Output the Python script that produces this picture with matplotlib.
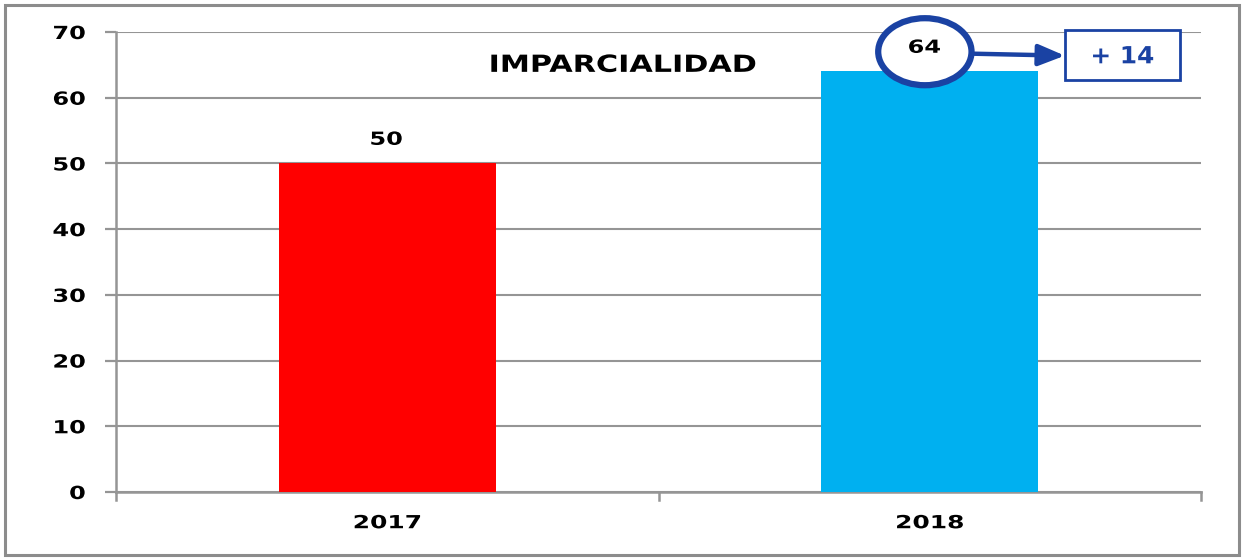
import matplotlib
matplotlib.use("Agg")
import matplotlib.pyplot as plt
from matplotlib.patches import Ellipse, Rectangle, FancyArrowPatch
from matplotlib.patheffects import AbstractPathEffect
from matplotlib.transforms import Affine2D

years = ["2017", "2018"]
values = [50, 64]
bar_colors = ["#FF0000", "#00B0F0"]
title = "IMPARCIALIDAD"
change_label = "+ 14"
y_ticks = [0, 10, 20, 30, 40, 50, 60, 70]

grid_color = "#959595"
accent = "#1A42A3"


class Stretch(AbstractPathEffect):
    """Widen glyph outlines horizontally about a chosen anchor of the ink."""

    def __init__(self, sx, anchor="center"):
        super().__init__()
        self.sx = sx
        self.anchor = anchor

    def draw_path(self, renderer, gc, tpath, affine, rgbFace=None):
        ext = tpath.get_extents()
        if self.anchor == "right":
            cx = ext.x1
        elif self.anchor == "left":
            cx = ext.x0
        else:
            cx = 0.5 * (ext.x0 + ext.x1)
        t = Affine2D().translate(-cx, 0).scale(self.sx, 1).translate(cx, 0) + affine
        renderer.draw_path(gc, tpath, t, rgbFace)


fig = plt.figure(figsize=(12.43, 5.59), dpi=100)
fig.patch.set_facecolor("white")

# outer chart frame
fig.patches.append(Rectangle((0.004, 0.008), 0.993, 0.983, transform=fig.transFigure,
                             fill=False, edgecolor="#8C8C8C", linewidth=2.2))

ax = fig.add_axes([116 / 1243, 1 - 492 / 559, (1201 - 116) / 1243, (492 - 32) / 559])
x = list(range(len(years)))
ax.bar(x, values, width=0.4, color=bar_colors, zorder=3)
ax.set_xlim(-0.5, len(years) - 0.5)
ax.set_ylim(0, 70)
ax.set_yticks(y_ticks)
ax.set_yticklabels([str(v) for v in y_ticks], fontsize=13, fontweight="bold")
ax.set_xticks(x)
ax.set_xticklabels(years, fontsize=13, fontweight="bold")
ax.tick_params(axis="x", length=0, pad=16)
ax.tick_params(axis="y", length=8, width=1.6, color=grid_color, pad=14)
for lab in ax.get_yticklabels():
    lab.set_path_effects([Stretch(1.33, "right")])
for lab in ax.get_xticklabels():
    lab.set_path_effects([Stretch(1.38, "center")])

# category boundary ticks
for b in [-0.5, 0.5, 1.5]:
    ax.plot([b, b], [0, -1.2], color=grid_color, lw=1.8, clip_on=False, zorder=4)

ax.yaxis.grid(True, color=grid_color, linewidth=1.5, zorder=0)
for s in ["top", "right"]:
    ax.spines[s].set_visible(False)
for s in ["left", "bottom"]:
    ax.spines[s].set_color(grid_color)
    ax.spines[s].set_linewidth(1.8)

ax.text(0.434, 65.0, title, ha="center", va="center", fontsize=17, fontweight="bold",
        path_effects=[Stretch(1.28)])

# value labels
ax.text(x[0] - 0.002, values[0] + 3.6, str(values[0]), ha="center", va="center",
        fontsize=13, fontweight="bold", path_effects=[Stretch(1.33)])
ax.text(x[1] - 0.01, values[1] + 3.6, str(values[1]), ha="center", va="center",
        fontsize=13, fontweight="bold", zorder=6, path_effects=[Stretch(1.33)])

# highlight around the 2018 value
ell_cx, ell_cy = x[1] - 0.009, values[1] + 3.0
ax.add_patch(Ellipse((ell_cx, ell_cy), width=0.172, height=10.2, fill=True,
                     facecolor="white", edgecolor=accent, linewidth=4.5, zorder=5,
                     clip_on=False))
ax.add_patch(FancyArrowPatch((ell_cx + 0.088, ell_cy - 0.3), (1.249, ell_cy - 0.6),
                             arrowstyle="-|>,head_length=16,head_width=6.5",
                             mutation_scale=1, color=accent, linewidth=3.2,
                             zorder=5, clip_on=False, shrinkA=0, shrinkB=0))
ax.add_patch(Rectangle((1.249, 62.7), 0.212, 7.6, fill=True, facecolor="white",
                       edgecolor=accent, linewidth=2, zorder=5, clip_on=False))
ax.text(1.249 + 0.106, 66.3, change_label, ha="center", va="center", fontsize=17,
        fontweight="bold", color=accent, zorder=6, path_effects=[Stretch(1.05)])

fig.savefig("out.png", dpi=100, facecolor="white")
